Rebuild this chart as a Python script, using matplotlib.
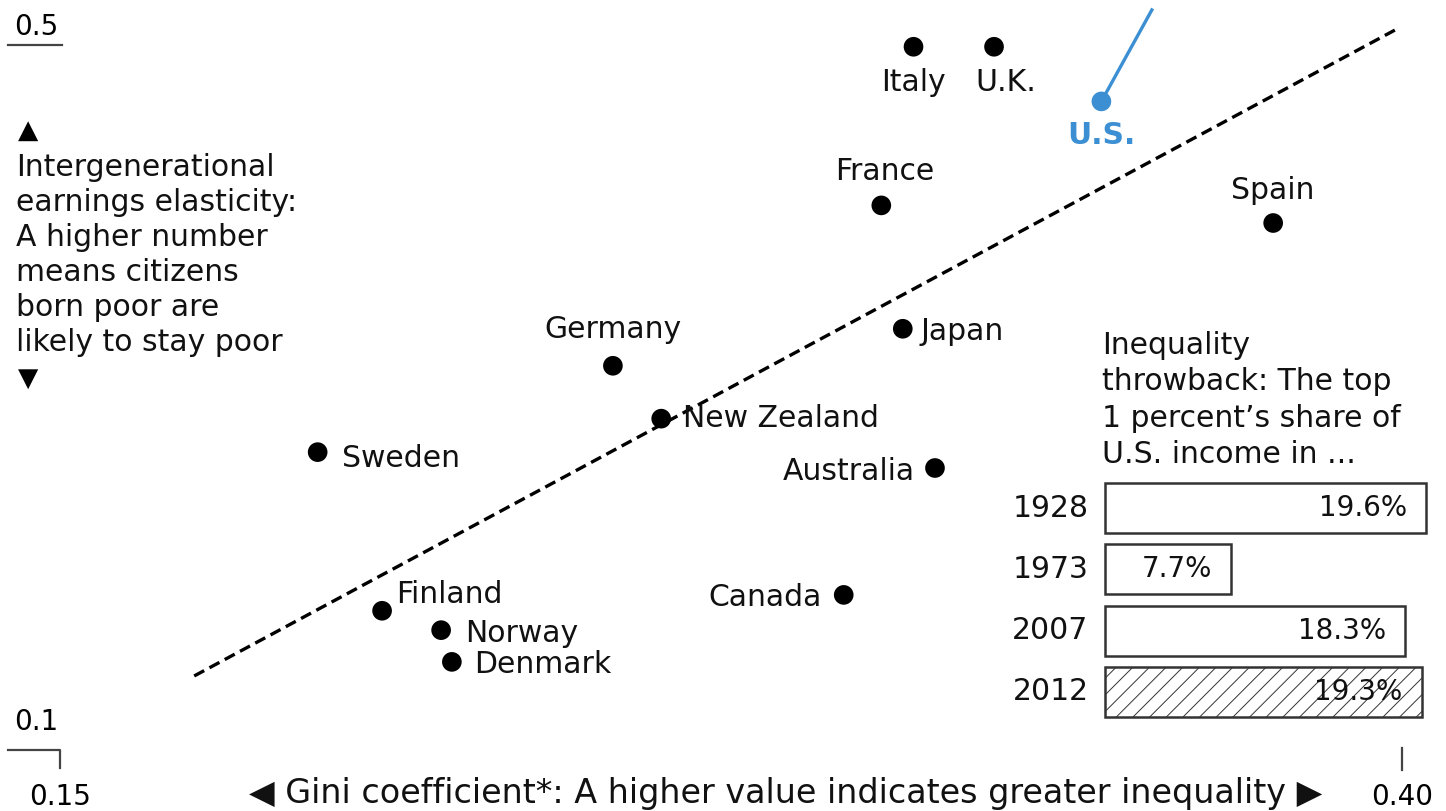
import matplotlib as mpl
mpl.use('Agg')
import matplotlib.pyplot as plt

plt.rcParams['font.family'] = ['DejaVu Sans']
plt.rcParams['hatch.linewidth'] = 0.7
plt.rcParams['hatch.color'] = '#666666'

# scatter data: Gini coefficient vs intergenerational earnings elasticity
countries = ['Italy', 'U.K.', 'U.S.', 'France', 'Spain', 'Japan', 'Germany',
             'New Zealand', 'Sweden', 'Australia', 'Canada', 'Finland',
             'Norway', 'Denmark']
gini = [0.309, 0.324, 0.344, 0.303, 0.376, 0.307, 0.253,
        0.262, 0.198, 0.313, 0.296, 0.210, 0.221, 0.223]
elasticity = [0.499, 0.499, 0.468, 0.409, 0.399, 0.339, 0.318,
              0.288, 0.269, 0.260, 0.188, 0.179, 0.168, 0.150]

# trend line end points
trend_x = [0.175, 0.399]
trend_y = [0.142, 0.509]

# inset: top 1 percent share of U.S. income
years = ['1928', '1973', '2007', '2012']
shares = [19.6, 7.7, 18.3, 19.3]

# label placement (offset in pixels, alignment)
label_pos = {
    'Italy': (0, -36, 'center'),
    'U.K.': (12, -36, 'center'),
    'U.S.': (0, -34, 'center'),
    'France': (3, 34, 'center'),
    'Spain': (0, 33, 'center'),
    'Japan': (18, -3, 'left'),
    'Germany': (0, 36, 'center'),
    'New Zealand': (22, 0, 'left'),
    'Sweden': (24, -6, 'left'),
    'Australia': (-20, -3, 'right'),
    'Canada': (-22, -3, 'right'),
    'Finland': (14, 16, 'left'),
    'Norway': (24, -3, 'left'),
    'Denmark': (22, -3, 'left'),
}

blue = '#3b8fd2'
ink = '#111111'
fs = 21.5
W, H = 1446, 811
fig = plt.figure(figsize=(W / 100, H / 100), dpi=100)
ax = fig.add_axes([60 / W, 61 / H, 1342 / W, 705 / H])
ax.set_xlim(0.15, 0.40)
ax.set_ylim(0.1, 0.5)
ax.axis('off')

ax.plot(trend_x, trend_y, color='black', lw=2.4, ls=(0, (3.4, 1.8)), clip_on=False, zorder=2)

# U.S. leader line
us = countries.index('U.S.')
ax.plot([gini[us], 0.3534], [elasticity[us], 0.5199], color=blue, lw=2.4,
        clip_on=False, zorder=3)

colors = [blue if c == 'U.S.' else 'black' for c in countries]
ax.scatter(gini, elasticity, s=200, c=colors, clip_on=False, zorder=4, lw=0)

for c, x, y in zip(countries, gini, elasticity):
    dx, dy, ha = label_pos[c]
    if c == 'U.S.':
        ax.annotate(c, (x, y), xytext=(dx, dy), textcoords='offset pixels',
                    ha=ha, va='center', fontsize=fs, color=blue, fontweight='bold')
    else:
        ax.annotate(c, (x, y), xytext=(dx, dy), textcoords='offset pixels',
                    ha=ha, va='center', fontsize=fs, color=ink)

# axis markers
ax.text(0.1415, 0.5 + 18 / 1762, '0.5', fontsize=20, ha='left', va='center', clip_on=False)
ax.plot([0.1404, 0.1504], [0.5, 0.5], color='#444444', lw=1.6, clip_on=False)
ax.text(0.1415, 0.1 + 28 / 1762, '0.1', fontsize=20, ha='left', va='center', clip_on=False)
ax.plot([0.1404, 0.15, 0.15], [0.1, 0.1, 0.1 - 18 / 1762], color='#444444', lw=1.6,
        clip_on=False)
ax.text(0.15, 0.1 - 47 / 1762, '0.15', fontsize=20, ha='center', va='center', clip_on=False)
ax.plot([0.40, 0.40], [0.1 + 2 / 1762, 0.1 - 20 / 1762], color='#444444', lw=1.6,
        clip_on=False)
ax.text(0.40, 0.1 - 47 / 1762, '0.40', fontsize=20, ha='center', va='center', clip_on=False)

fig.text(786 / W, 1 - 793 / H,
         '\u25C0 Gini coefficient*: A higher value indicates greater inequality \u25B6',
         fontsize=24, ha='center', va='center', color=ink)

fig.text(18 / W, 1 - 131 / H, '\u25B2', fontsize=19, ha='left', va='center')
fig.text(18 / W, 1 - 379 / H, '\u25BC', fontsize=19, ha='left', va='center')
fig.text(16 / W, 1 - 153 / H,
         'Intergenerational\nearnings elasticity:\nA higher number\nmeans citizens\n'
         'born poor are\nlikely to stay poor',
         fontsize=fs, ha='left', va='top', linespacing=1.26, color=ink)

fig.text(1102 / W, 1 - 331 / H,
         'Inequality\nthrowback: The top\n1 percent\u2019s share of\nU.S. income in ...',
         fontsize=fs, ha='left', va='top', linespacing=1.32, color=ink)

# inset bars
bx = fig.add_axes([1105 / W, 88.4 / H, 328 / W, 245.2 / H])
bx.set_xlim(0, 20)
bx.set_ylim(3.5, -0.5)
bx.axis('off')
for i, (yr, v) in enumerate(zip(years, shares)):
    hatch = '//' if yr == '2012' else None
    bx.barh(i, v, height=0.815, left=0, color='white', edgecolor='#333333',
            lw=1.8, hatch=hatch, clip_on=False)
    bx.text(v - 1.15, i, '{:.1f}%'.format(v), ha='right', va='center', fontsize=20,
            color=ink)
    bx.text(-1.0, i, yr, ha='right', va='center', fontsize=fs, color=ink)

fig.savefig('out.png', dpi=100, facecolor='white')
